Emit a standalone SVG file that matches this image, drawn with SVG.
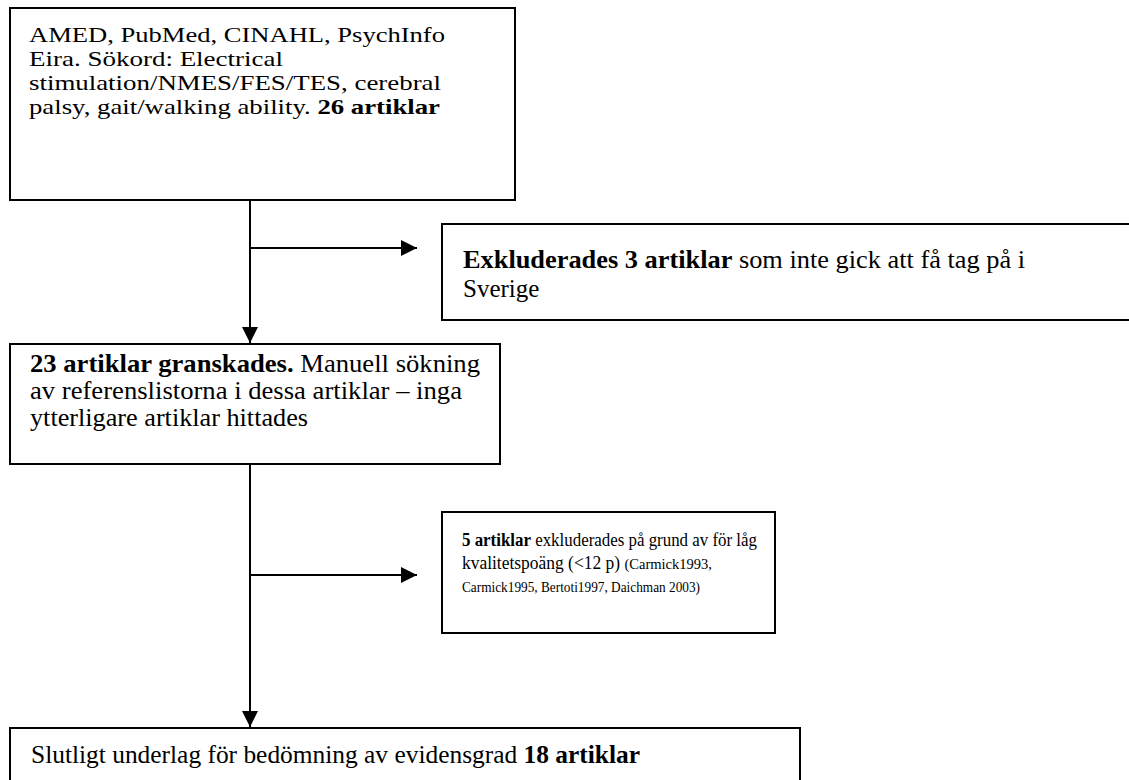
<svg xmlns="http://www.w3.org/2000/svg" width="1129" height="780" viewBox="0 0 1129 780">
<style>
.box{fill:#fff;stroke:#000;stroke-width:2}
.t{font-family:"Liberation Serif","Times New Roman",serif;fill:#000}
.f1{font-size:21px}
.f2{font-size:25px}
.f4{font-size:18px}
.s{font-size:15px}
.b{font-weight:bold}
.c{stroke:#000;stroke-width:2;fill:none}
</style>
<defs>
<marker id="ah" viewBox="0 0 10 10" refX="10" refY="5" markerWidth="8" markerHeight="8" markerUnits="strokeWidth" orient="auto">
<path d="M0,0 L10,5 L0,10 z" fill="#000"/>
</marker>
</defs>
<rect width="1129" height="780" fill="#fff"/>
<g id="connectors">
<line class="c" x1="250" y1="200" x2="250" y2="343" marker-end="url(#ah)"/>
<line class="c" x1="250" y1="248" x2="417" y2="248" marker-end="url(#ah)"/>
<line class="c" x1="250" y1="464" x2="250" y2="727" marker-end="url(#ah)"/>
<line class="c" x1="250" y1="575" x2="417" y2="575" marker-end="url(#ah)"/>
</g>
<g id="n1">
<rect class="box" x="10" y="8" width="505" height="192"/>
<text class="t f1" x="29" y="42" textLength="416" lengthAdjust="spacingAndGlyphs">AMED, PubMed, CINAHL, PsychInfo</text>
<text class="t f1" x="29" y="66" textLength="254" lengthAdjust="spacingAndGlyphs">Eira. Sökord: Electrical</text>
<text class="t f1" x="29" y="90" textLength="412" lengthAdjust="spacingAndGlyphs">stimulation/NMES/FES/TES, cerebral</text>
<text class="t f1" x="29" y="114" textLength="411" lengthAdjust="spacingAndGlyphs">palsy, gait/walking ability. <tspan class="b">26 artiklar</tspan></text>
</g>
<g id="n2">
<rect class="box" x="442" y="224" width="700" height="96"/>
<text class="t f2" x="463" y="268" textLength="562" lengthAdjust="spacingAndGlyphs"><tspan class="b">Exkluderades 3 artiklar</tspan> som inte gick att få tag på i</text>
<text class="t f2" x="463" y="297">Sverige</text>
</g>
<g id="n3">
<rect class="box" x="10" y="344" width="490" height="120"/>
<text class="t f2" x="30" y="372" textLength="450" lengthAdjust="spacingAndGlyphs"><tspan class="b">23 artiklar granskades.</tspan> Manuell sökning</text>
<text class="t f2" x="30" y="399" textLength="432" lengthAdjust="spacingAndGlyphs">av referenslistorna i dessa artiklar – inga</text>
<text class="t f2" x="30" y="426" textLength="278" lengthAdjust="spacingAndGlyphs">ytterligare artiklar hittades</text>
</g>
<g id="n4">
<rect class="box" x="442" y="512" width="333" height="121"/>
<text class="t f4" x="462" y="546" textLength="295" lengthAdjust="spacingAndGlyphs"><tspan class="b">5 artiklar</tspan> exkluderades på grund av för låg</text>
<text class="t f4" x="462" y="569" textLength="250" lengthAdjust="spacingAndGlyphs">kvalitetspoäng (&lt;12 p) <tspan class="s">(Carmick1993,</tspan></text>
<text class="t s" x="462" y="592" textLength="238" lengthAdjust="spacingAndGlyphs">Carmick1995, Bertoti1997, Daichman 2003)</text>
</g>
<g id="n5">
<rect class="box" x="10" y="728" width="790" height="70"/>
<text class="t f2" x="31" y="763" textLength="609" lengthAdjust="spacingAndGlyphs">Slutligt underlag för bedömning av evidensgrad <tspan class="b">18 artiklar</tspan></text>
</g>
</svg>
